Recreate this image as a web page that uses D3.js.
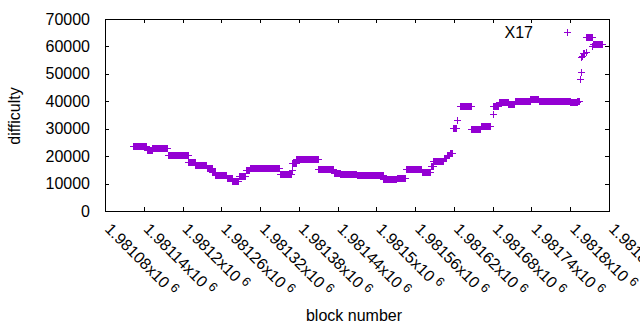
<!DOCTYPE html>
<html><head><meta charset="utf-8">
<script src="https://cdn.jsdelivr.net/npm/d3@7"></script>
<style>
html,body{margin:0;padding:0;background:#fff;}
svg{display:block;font-family:"Liberation Sans",Arial,sans-serif;}
</style></head>
<body>
<svg id="c" width="640" height="330"></svg>
<script>
// x tick values (block numbers) and their labels
const xTicks = [1981080,1981140,1981200,1981260,1981320,1981380,1981440,1981500,1981560,1981620,1981680,1981740,1981800,1981860];
const xTickLabels = ["1.98108","1.98114","1.9812","1.98126","1.98132","1.98138","1.98144","1.9815","1.98156","1.98162","1.98168","1.98174","1.9818","1.98186"];
const yTicks = [0,10000,20000,30000,40000,50000,60000,70000];
const yTickLabels = ["0","10000","20000","30000","40000","50000","60000","70000"];
const seriesName = "X17";
// runs of consecutive blocks sharing one difficulty value (first block, last block, difficulty)
const runStart = [1981124,1981145,1981153,1981177,1981209,1981220,1981238,1981246,1981251,1981269,1981277,1981287,1981298,1981304,1981351,1981369,1981370,1981376,1981410,1981434,1981444,1981470,1981511,1981532,1981546,1981570,1981584,1981588,1981604,1981609,1981614,1981618,1981625,1981629,1981647,1981662,1981680,1981681,1981689,1981704,1981714,1981738,1981751,1981800,1981811,1981815,1981816,1981817,1981818,1981820,1981822,1981824,1981825,1981834,1981835];
const runEnd   = [1981144,1981152,1981176,1981208,1981219,1981237,1981245,1981250,1981268,1981276,1981286,1981297,1981303,1981350,1981368,1981369,1981375,1981409,1981433,1981443,1981469,1981510,1981531,1981545,1981569,1981583,1981587,1981603,1981608,1981613,1981617,1981623,1981625,1981646,1981661,1981676,1981680,1981688,1981703,1981713,1981737,1981750,1981799,1981810,1981814,1981815,1981816,1981817,1981818,1981820,1981822,1981824,1981833,1981834,1981849];
const runDiff  = [23600,22400,23000,20300,17900,16600,15700,14200,13100,12000,11100,12650,14900,15600,13350,14950,17650,18850,15200,14000,13600,13300,11700,12000,15200,14100,16400,18300,19500,20300,21300,30100,33200,38300,29900,31000,35300,38200,39600,38900,40000,41000,40100,39600,40200,48100,56000,50800,56500,57500,57700,57900,63300,60200,61000];

const points = [];
runStart.forEach((s,i)=>{ for(let b=s;b<=runEnd[i];b++) points.push({block:b, diff:runDiff[i]}); });

const L=105, R=609, T=19, B=211;
const svg = d3.select("#c");
const x = d3.scaleLinear().domain([1981080,1981860]).range([L,R]);
const y = d3.scaleLinear().domain([0,70000]).range([B,T]);
const color = "#9400D3";

// axes (ticks inward, mirrored)
const gL = svg.append("g").attr("transform",`translate(${L},0)`)
  .call(d3.axisLeft(y).tickValues(yTicks).tickSize(-4).tickPadding(15).tickFormat((d,i)=>yTickLabels[i]));
const gR = svg.append("g").attr("transform",`translate(${R},0)`)
  .call(d3.axisRight(y).tickValues(yTicks).tickSize(-4).tickFormat(""));
const gB = svg.append("g").attr("transform",`translate(0,${B})`)
  .call(d3.axisBottom(x).tickValues(xTicks).tickSize(-4).tickFormat(""));
const gT = svg.append("g").attr("transform",`translate(0,${T})`)
  .call(d3.axisTop(x).tickValues(xTicks).tickSize(-4).tickFormat(""));
[gL,gR,gB,gT].forEach(g=>{
  g.selectAll("path,line").attr("stroke","#000").attr("shape-rendering","crispEdges");
  g.selectAll("text").attr("font-size",16).attr("font-family","Liberation Sans, Arial, sans-serif").attr("fill","#000");
});

// rotated x tick labels
const xl = svg.append("g").attr("font-size",16).attr("fill","#000");
xTicks.forEach((t,i)=>{
  const tx = xl.append("text").attr("transform",`translate(${x(t)-1},${B+19}) rotate(45)`);
  tx.append("tspan").text(xTickLabels[i]+"x10");
  tx.append("tspan").attr("font-size",12.8).attr("dx",4).attr("dy",-5).text("6");
});

// axis titles
svg.append("text").attr("x",354).attr("y",321).attr("text-anchor","middle").attr("font-size",16).text("block number");
svg.append("text").attr("transform","translate(20,116) rotate(-90)").attr("text-anchor","middle").attr("font-size",16).text("difficulty");

// points
const plus = (cx,cy)=>`M${cx-3.5},${cy}h7M${cx},${cy-3.5}v7`;
svg.append("path")
  .attr("d", points.map(p=>plus(Math.round(x(p.block))+0.5, Math.round(y(p.diff))+0.5)).join(""))
  .attr("stroke",color).attr("stroke-width",1).attr("fill","none").attr("shape-rendering","crispEdges");

// key
svg.append("text").attr("x",533).attr("y",37.5).attr("text-anchor","end").attr("font-size",16).text(seriesName);
svg.append("path").attr("d",plus(567.5,32.5)).attr("stroke",color).attr("fill","none").attr("shape-rendering","crispEdges");
</script>
</body></html>
